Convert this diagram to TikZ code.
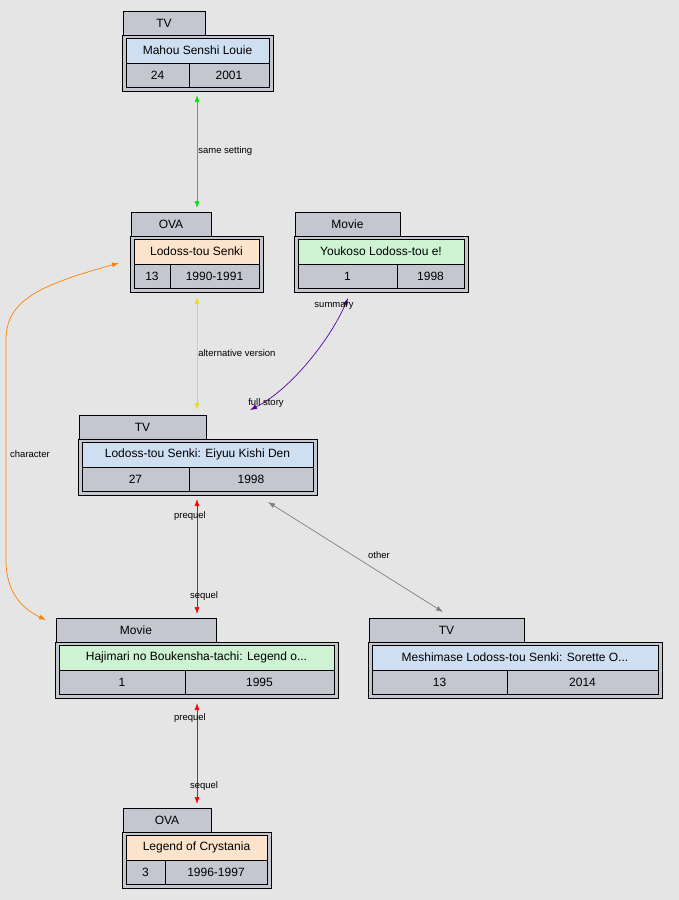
\documentclass[tikz,border=0pt]{standalone}
\usepackage{fontspec}
\setmainfont{Liberation Sans}
\usetikzlibrary{arrows.meta}
\definecolor{bg}{HTML}{E5E5E5}
\definecolor{cell}{HTML}{C4C7CF}
\definecolor{cblue}{HTML}{CFDFF2}
\definecolor{cpeach}{HTML}{FBE3CC}
\definecolor{cgreen}{HTML}{CDF3D3}
\tikzset{
 x=1pt,y=-1pt,
 box/.style={draw=black,fill=cell,line width=0.8pt},
 txt/.style={font=\fontsize{12}{14}\selectfont,inner sep=0pt},
 lab/.style={font=\fontsize{9.5}{11}\selectfont,inner sep=1pt},
 arr/.style={{Latex[length=7pt,width=5pt]}-{Latex[length=7pt,width=5pt]},line width=0.7pt},
}
% #1 name, #2 x0, #3 y0 (tab top), #4 tab right, #5 box right, #6 split x, #7 tab text, #8 title, #9 colour, then n, year
\newcommand\rec[9]{%
 \def\rn{#1}\def\rxa{#2}\def\rya{#3}\def\rtr{#4}\def\rxb{#5}\def\rsp{#6}\def\rtab{#7}\def\rtitle{#8}\def\rcol{#9}\recb}
\newcommand\recb[2]{%
 \draw[box] (\rxa+1,\rya) rectangle (\rtr,\rya+24);
 \node[txt] (\rn tab) at ({(\rxa+1+\rtr)/2},\rya+12) {\rtab};
 \draw[box] (\rxa,\rya+24) rectangle (\rxb,\rya+80);
 \draw[draw=black,line width=0.8pt,fill=\rcol] (\rxa+4,\rya+27) rectangle (\rxb-4,\rya+52);
 \node[txt] (\rn) at ({(\rxa+\rxb)/2},\rya+39.5) {\rtitle};
 \draw[line width=0.8pt] (\rxa+4,\rya+52) rectangle (\rxb-4,\rya+76);
 \draw[line width=0.8pt] (\rsp,\rya+52) -- (\rsp,\rya+76);
 \node[txt] (\rn n) at ({(\rxa+4+\rsp)/2},\rya+64) {#1};
 \node[txt] (\rn y) at ({(\rsp+\rxb-4)/2},\rya+64) {#2};
}
\begin{document}
\begin{tikzpicture}
\fill[bg] (0,0) rectangle (679,900);
\useasboundingbox (0,0) rectangle (679,900);
\rec{louie}{122}{11}{205}{273}{189}{TV}{Mahou Senshi Louie}{cblue}{24}{2001}
\rec{lodoss}{130}{212}{211}{263}{170}{OVA}{Lodoss-tou Senki}{cpeach}{13}{1990-1991}
\rec{youkoso}{294}{212}{400}{468}{397}{Movie}{Youkoso Lodoss-tou e!}{cgreen}{1}{1998}
\rec{eiyuu}{78}{415}{206}{317}{189}{TV}{Lodoss-tou Senki: Eiyuu Kishi Den}{cblue}{27}{1998}
\rec{haji}{55}{618}{216}{338}{185}{Movie}{Hajimari no Boukensha-tachi: Legend o...}{cgreen}{1}{1995}
\rec{mesh}{368}{618}{524}{662}{507}{TV}{Meshimase Lodoss-tou Senki: Sorette O...}{cblue}{13}{2014}
\rec{cry}{122}{808}{211}{271}{165}{OVA}{Legend of Crystania}{cpeach}{3}{1996-1997}

\coordinate (a1) at (197,95); \coordinate (a2) at (197,208);
\draw[arr,draw=green!90!black,fill=green!90!black,{Latex[length=7pt,width=5pt]}-{Latex[length=7pt,width=5pt]}] (a1) -- node[lab,pos=0.5,right=0pt,fill=none,text=black]{same setting} (a2);
\coordinate (b1) at (197,297); \coordinate (b2) at (197,410);
\draw[arr,draw=yellow!90!black] (b1) -- node[lab,right=0pt]{alternative version} (b2);
\coordinate (c1) at (348,298); \coordinate (c2) at (250,410);
\draw[arr,draw=violet!70!blue] (c1) .. controls (330,340) and (290,390) .. (c2);
\node[lab] at (334,306) {summary};
\node[lab] at (266,403) {full story};
\coordinate (d1) at (119,263); \coordinate (d2) at (46,620);
\draw[arr,draw=orange] (d1) .. controls (40,285) and (6,300) .. (6,340) -- (6,560) .. controls (6,595) and (25,610) .. (d2);
\node[lab] at (30,454) {character};
\coordinate (e1) at (197,499); \coordinate (e2) at (197,614);
\draw[arr,draw=red] (e1) -- (e2);
\node[lab] at (190,516) {prequel}; \node[lab] at (204,596) {sequel};
\coordinate (f1) at (268,502); \coordinate (f2) at (443,612);
\draw[arr,draw=gray] (f1) -- (f2);
\node[lab] at (379,555) {other};
\coordinate (g1) at (197,703); \coordinate (g2) at (197,804);
\draw[arr,draw=red] (g1) -- (g2);
\node[lab] at (190,718) {prequel}; \node[lab] at (204,786) {sequel};
\end{tikzpicture}
\end{document}
